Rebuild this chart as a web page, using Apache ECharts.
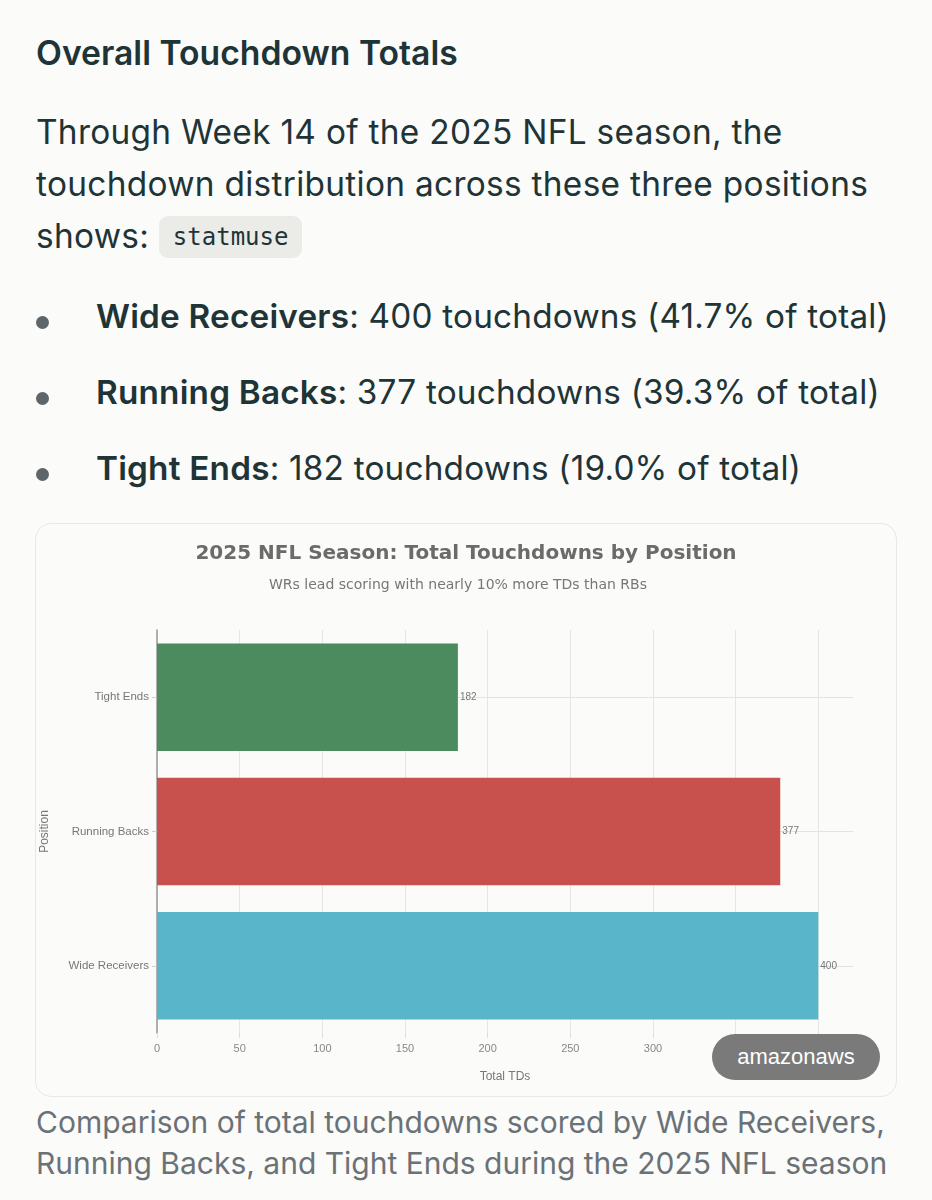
<!DOCTYPE html>
<html>
<head>
<meta charset="utf-8">
<script src="https://cdn.jsdelivr.net/npm/echarts@6/dist/echarts.min.js"></script>
<style>
  html, body { margin: 0; padding: 0; background: #fbfbf9; }
  body { width: 932px; height: 1200px; position: relative; overflow: hidden; font-family: Inter, "Noto Sans", sans-serif; color: #1f3437; }
  .h { position: absolute; left: 36px; top: 32px; font-size: 33.7px; font-weight: 600; white-space: nowrap; }
  .p { position: absolute; left: 36px; top: 106px; width: 900px; font-size: 33.4px; line-height: 52px; letter-spacing: 0.3px; white-space: nowrap; }
  .chip { display: inline-block; background: #ebebe8; border-radius: 9px; padding: 0 14px; font-family: "DejaVu Sans Mono", monospace; font-size: 24px; line-height: 42px; letter-spacing: 0; vertical-align: 3px; }
  .li { position: absolute; left: 96px; font-size: 33.3px; line-height: 40px; letter-spacing: 0.2px; white-space: nowrap; }
  .li b { font-weight: 600; }
  .dot { position: absolute; left: 36px; width: 13px; height: 13px; border-radius: 50%; background: #5c666b; }
  .card { position: absolute; left: 35px; top: 523px; width: 860px; height: 572px; border: 1px solid #e8e8e5; border-radius: 16px; background: #fbfbf9; }
  #chart { position: absolute; left: 0; top: 0; width: 860px; height: 572px; }
  .badge { position: absolute; left: 712px; top: 1034px; width: 168px; height: 46px; border-radius: 23px; background: #7a7a7a; color: #fff; font-family: "Liberation Sans", Arial, sans-serif; font-size: 22px; line-height: 46px; text-align: center; }
  .cap { position: absolute; left: 36px; top: 1102px; width: 900px; font-size: 30px; line-height: 41px; color: #6a7277; white-space: nowrap; }
</style>
</head>
<body>
<div class="h">Overall Touchdown Totals</div>
<div class="p">Through Week 14 of the 2025 NFL season, the<br>touchdown distribution across these three positions<br>shows: <span class="chip">statmuse</span></div>

<div class="dot" style="top:316px"></div>
<div class="li" style="top:296px"><b>Wide Receivers</b>: 400 touchdowns (41.7% of total)</div>
<div class="dot" style="top:392px"></div>
<div class="li" style="top:372px"><b>Running Backs</b>: 377 touchdowns (39.3% of total)</div>
<div class="dot" style="top:468px"></div>
<div class="li" style="top:448px"><b>Tight Ends</b>: 182 touchdowns (19.0% of total)</div>

<div class="card"><div id="chart"></div></div>
<div class="badge">amazonaws</div>

<div class="cap">Comparison of total touchdowns scored by Wide Receivers,<br>Running Backs, and Tight Ends during the 2025 NFL season</div>

<script>
// 数据：从下到上
const positions = ['Wide Receivers', 'Running Backs', 'Tight Ends'];
const touchdowns = [400, 377, 182];
const barColors = ['#59b5ca', '#c9514d', '#4b8b5d'];
const xTicks = [0, 50, 100, 150, 200, 250, 300, 350, 400];

const chart = echarts.init(document.getElementById('chart'));

const option = {
  animation: false,
  textStyle: { fontFamily: 'Liberation Sans, Arial, sans-serif' },
  title: [
    {
      text: '2025 NFL Season: Total Touchdowns by Position',
      left: 'center',
      top: 15,
      textStyle: { fontFamily: 'DejaVu Sans', fontSize: 20, fontWeight: 'bold', color: '#6b6b6b' }
    },
    {
      text: 'WRs lead scoring with nearly 10% more TDs than RBs',
      left: 228,
      top: 49,
      textStyle: { fontFamily: 'DejaVu Sans', fontSize: 14, fontWeight: 'normal', color: '#777' }
    }
  ],
  grid: { left: 121, right: 43, top: 106, bottom: 63, containLabel: false, outerBoundsMode: 'none' },
  xAxis: {
    type: 'value',
    min: 0,
    max: 421,
    interval: 50,
    name: 'Total TDs',
    nameLocation: 'middle',
    nameGap: 38,
    nameTextStyle: { fontSize: 12, color: '#777' },
    axisLine: { show: false },
    axisTick: { show: true, length: 5, lineStyle: { color: '#ddd' } },
    axisLabel: {
      fontSize: 11,
      color: '#888',
      margin: 10,
      showMaxLabel: false,
      formatter: (v) => (xTicks.includes(v) ? String(v) : '')
    },
    splitLine: { show: true, showMaxLine: false, lineStyle: { color: '#e6e6e6', width: 1 } }
  },
  yAxis: {
    type: 'category',
    data: positions,
    name: 'Position',
    nameLocation: 'middle',
    nameGap: 106,
    nameTextStyle: { fontSize: 12, color: '#777' },
    axisLine: { show: true, lineStyle: { color: '#999', width: 1.5 } },
    axisTick: { show: true, alignWithLabel: true, length: 5, lineStyle: { color: '#ccc' } },
    axisLabel: { fontSize: 11.5, color: '#777', margin: 8 },
    splitLine: { show: true, alignWithLabel: true, lineStyle: { color: '#e3e3e3', width: 1 } }
  },
  series: [{
    type: 'bar',
    barCategoryGap: '20%',
    data: touchdowns.map((v, i) => ({ value: v, itemStyle: { color: barColors[i] } })),
    label: { show: true, position: 'right', distance: 2, fontSize: 10, color: '#777' }
  }]
};

chart.setOption(option);
</script>
</body>
</html>
